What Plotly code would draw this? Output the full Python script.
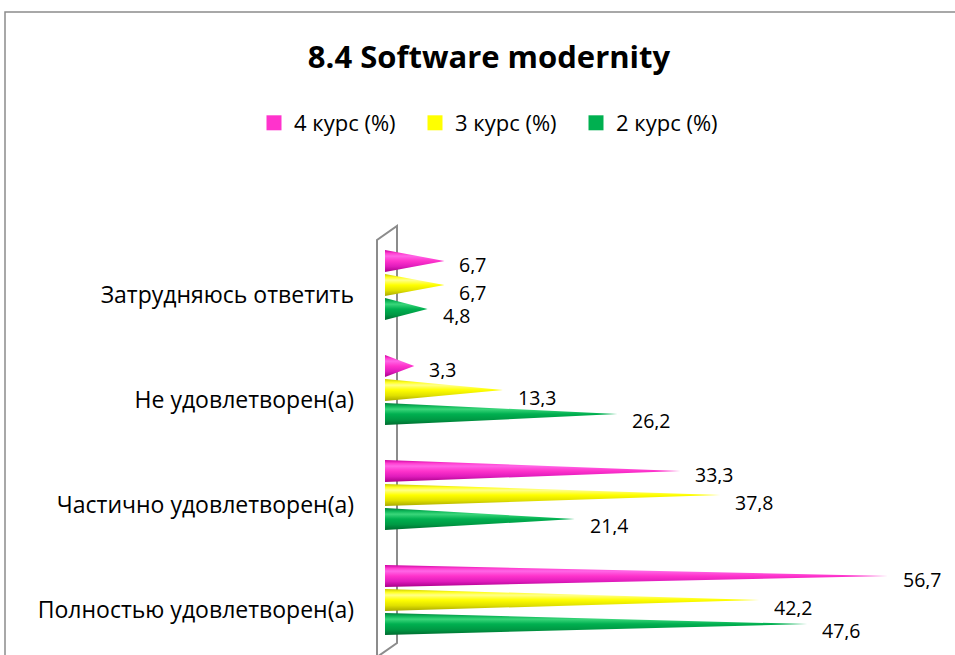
import plotly.graph_objects as go

categories = ["Полностью удовлетворен(а)", "Частично удовлетворен(а)",
              "Не удовлетворен(а)", "Затрудняюсь ответить"]
series_names = ["4 курс (%)", "3 курс (%)", "2 курс (%)"]
kurs4 = [56.7, 33.3, 3.3, 6.7]
kurs3 = [42.2, 37.8, 13.3, 6.7]
kurs2 = [47.6, 21.4, 26.2, 4.8]
title_text = "8.4 Software modernity"

W, H = 955, 655
FONT = "Open Sans"

def px(x):
    return x / W

def py(y):
    return 1 - y / H

series = [
    (series_names[0], kurs4, "#FF33CC", ["#a8008a", "#e01cbc", "#ff33cc", "#ff66e6", "#ff3dd0", "#c9009f"], 0.229, -3),
    (series_names[1], kurs3, "#FFFF00", ["#a8a800", "#e0e000", "#ffff00", "#ffff8a", "#ffff20", "#c8c800"], 0.0, -7),
    (series_names[2], kurs2, "#00B050", ["#006b30", "#009944", "#00b050", "#3ad67a", "#10b85a", "#007f3a"], -0.229, -6),
]

half = 0.105
fig = go.Figure()
annotations = []
for name, vals, col, grad, off, ysh in series:
    stops = [0, 0.25, 0.5, 0.72, 0.85, 1]
    for i, v in enumerate(vals):
        yc = i + off
        fig.add_trace(go.Scatter(
            x=[0, v, 0, 0], y=[yc - half, yc, yc + half, yc - half],
            mode="lines", fill="toself", line=dict(width=0, color=col),
            fillcolor=col,
            fillgradient=dict(type="vertical", colorscale=[[s, c] for s, c in zip(stops, grad)]),
            showlegend=False, hoverinfo="skip"))
        annotations.append(dict(x=v, y=yc, xref="x", yref="y", text=f"{v:.1f}".replace(".", ","),
                                showarrow=False, xanchor="left", yanchor="middle",
                                xshift=13, yshift=ysh, height=20, valign="middle",
                                font=dict(family=FONT, size=19.5, color="#000")))
for name, vals, col, grad, off, ysh in series:
    fig.add_trace(go.Scatter(x=[None], y=[None], mode="markers", name=name,
                             marker=dict(symbol="square", size=15, color=col)))

ppu_x = (888 - 385) / 56.7
ppu_y = 105.0
y0_px = 600.0

shapes = [
    # chart frame
    dict(type="rect", xref="paper", yref="paper", x0=px(5), y0=py(12), x1=px(W + 20), y1=py(H + 20),
         line=dict(color="#8c8c8c", width=1.5)),
    # 3D wall
    dict(type="path", xref="paper", yref="paper",
         path=f"M {px(377)} {py(H + 5)} L {px(377)} {py(240)} L {px(397)} {py(226)} L {px(397)} {py(643)} L {px(377)} {py(657)}",
         line=dict(color="#8c8c8c", width=2), layer="below"),
]

tick_vals = [i - 0.09 for i in range(len(categories))]

fig.update_layout(
    width=W, height=H,
    margin=dict(l=0, r=0, t=0, b=0),
    paper_bgcolor="white", plot_bgcolor="rgba(0,0,0,0)",
    font=dict(family=FONT, color="#000"),
    title=dict(text=f"<b>{title_text}</b>", x=px(489), xanchor="center", y=py(57), yanchor="middle",
               font=dict(family=FONT, size=31, color="#000")),
    legend=dict(orientation="h", x=px(254), xanchor="left", y=py(123), yanchor="middle",
                font=dict(family=FONT, size=22), entrywidth=116, bgcolor="rgba(0,0,0,0)",
                itemclick=False),
    xaxis=dict(domain=[px(385), 1], range=[0, (W - 385) / ppu_x], showgrid=False, zeroline=False,
               showticklabels=False, ticks="", showline=False),
    yaxis=dict(domain=[0, 1], range=[(y0_px - H) / ppu_y, y0_px / ppu_y], showgrid=False, zeroline=False,
               tickvals=tick_vals, ticktext=categories, ticks="", ticklabelstandoff=30,
               tickfont=dict(family=FONT, size=23, color="#000"), showline=False),
    shapes=shapes,
    annotations=annotations,
)

fig.write_html("out.html", config={"displayModeBar": False},
               post_script="document.body.style.margin='0';document.body.style.overflow='hidden';")
